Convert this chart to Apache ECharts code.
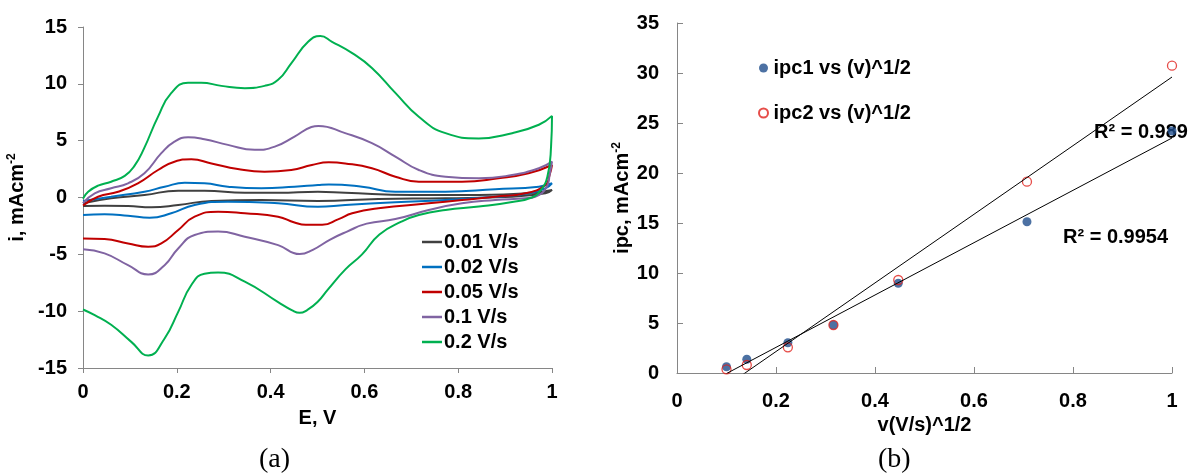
<!DOCTYPE html>
<html>
<head>
<meta charset="utf-8">
<script src="https://cdn.jsdelivr.net/npm/echarts@6/dist/echarts.min.js"></script>
<style>
html,body{margin:0;padding:0;background:#fff;}
#c{width:1193px;height:474px;}
</style>
</head>
<body>
<div id="c"></div>
<script>
// ---------- Panel (a): cyclic voltammograms, [E (V), i (mA/cm2)] ----------
const cvNames = ['0.01 V/s', '0.02 V/s', '0.05 V/s', '0.1 V/s', '0.2 V/s'];
const cv001 = [[0,-0.5],[0.06,-0.07],[0.131,0.22],[0.203,0.6],[0.259,0.6],[0.345,0.42],[0.416,0.42],[0.501,0.51],[0.559,0.42],[0.701,0.22],[0.844,0.22],[0.95,0.37],[1.0,0.66],
  [0.986,0.37],[0.915,0.07],[0.773,-0.07],[0.63,-0.13],[0.501,-0.3],[0.38,-0.22],[0.274,-0.3],[0.203,-0.66],[0.146,-0.86],[0.096,-0.75],[0.046,-0.72],[0,-0.75]];
const cv002 = [[0,-0.3],[0.06,0.07],[0.131,0.51],[0.174,0.95],[0.217,1.3],[0.259,1.25],[0.309,0.95],[0.38,0.81],[0.451,0.95],[0.501,1.1],[0.524,1.15],[0.595,0.95],[0.666,0.51],[0.773,0.51],[0.879,0.72],[0.972,0.95],[1.0,1.25],
  [0.986,0.81],[0.95,0.37],[0.879,0.07],[0.773,-0.22],[0.666,-0.42],[0.559,-0.66],[0.501,-0.81],[0.416,-0.51],[0.309,-0.37],[0.238,-0.66],[0.188,-1.39],[0.142,-1.78],[0.096,-1.6],[0.046,-1.48],[0,-1.54]];
const cv005 = [[0,-0.7],[0.032,0.07],[0.075,0.51],[0.117,1.25],[0.16,2.42],[0.195,3.15],[0.231,3.36],[0.274,3.0],[0.33,2.5],[0.387,2.27],[0.444,2.42],[0.488,2.86],[0.524,3.1],[0.559,3.0],[0.616,2.57],[0.666,1.83],[0.716,1.39],[0.808,1.39],[0.886,1.69],[0.95,2.13],[1.0,2.86],
  [0.995,2.0],[0.986,1.1],[0.943,0.37],[0.879,0.07],[0.808,-0.22],[0.737,-0.51],[0.63,-0.95],[0.574,-1.39],[0.545,-1.9],[0.51,-2.4],[0.475,-2.4],[0.451,-2.2],[0.416,-1.69],[0.345,-1.39],[0.288,-1.25],[0.238,-1.69],[0.203,-2.86],[0.167,-4.04],[0.139,-4.33],[0.096,-4.04],[0.046,-3.66],[0,-3.6]];
const cv01 = [[0,-0.5],[0.025,0.37],[0.06,0.81],[0.096,1.25],[0.131,2.13],[0.167,3.9],[0.195,4.92],[0.224,5.3],[0.259,5.13],[0.309,4.63],[0.366,4.19],[0.409,4.48],[0.451,5.36],[0.487,6.2],[0.502,6.3],[0.559,5.66],[0.616,4.78],[0.666,3.6],[0.716,2.42],[0.773,1.83],[0.844,1.69],[0.915,1.98],[0.972,2.57],[1.0,3.15],
  [0.995,2.0],[0.989,0.95],[0.964,0.07],[0.943,-0.07],[0.879,-0.22],[0.808,-0.5],[0.737,-1.1],[0.666,-1.9],[0.605,-2.3],[0.563,-3.0],[0.527,-3.7],[0.49,-4.6],[0.462,-4.98],[0.416,-4.19],[0.345,-3.45],[0.288,-3.0],[0.238,-3.3],[0.203,-4.48],[0.174,-5.95],[0.139,-6.77],[0.096,-5.95],[0.046,-4.92],[0,-4.56]];
const cv02 = [[0,-0.1],[0.011,0.5],[0.032,1.04],[0.06,1.39],[0.089,1.9],[0.11,2.8],[0.13,4.3],[0.16,7.12],[0.188,9.18],[0.224,10.1],[0.252,10.1],[0.295,9.82],[0.345,9.62],[0.387,9.82],[0.416,10.35],[0.444,11.8],[0.48,13.7],[0.506,14.2],[0.531,13.7],[0.574,12.7],[0.616,11.4],[0.666,9.2],[0.716,7.1],[0.773,5.66],[0.844,5.2],[0.915,5.66],[0.972,6.4],[1.0,7.18],
  [0.998,4.5],[0.99,1.8],[0.975,0.6],[0.957,0.0],[0.915,-0.4],[0.844,-0.8],[0.773,-1.1],[0.716,-1.54],[0.68,-2.1],[0.632,-3.25],[0.595,-5.0],[0.56,-6.3],[0.522,-8.1],[0.5,-9.2],[0.478,-9.9],[0.462,-10.15],[0.445,-9.9],[0.416,-9.2],[0.345,-7.4],[0.288,-6.6],[0.259,-6.7],[0.231,-7.7],[0.203,-10.06],[0.174,-12.4],[0.139,-13.9],[0.103,-12.7],[0.06,-11.2],[0.025,-10.35],[0,-9.85]];
const cvColors = ['#404040', '#0070c0', '#c00000', '#8064a2', '#00b050'];
const eTicksA = [0, 0.2, 0.4, 0.6, 0.8, 1];
const iTicksA = [-15, -10, -5, 0, 5, 10, 15];

// ---------- Panel (b): peak current vs sqrt(scan rate) ----------
const sqrtV = [0.1, 0.141, 0.224, 0.316, 0.447, 0.707, 1.0];
const ipc1 = [0.63, 1.37, 3.03, 4.8, 8.97, 15.13, 24.2];
const ipc2 = [0.37, 0.8, 2.57, 4.8, 9.3, 19.13, 30.73];
const scatterNames = ['ipc1 vs (v)^1/2', 'ipc2 vs (v)^1/2'];
const r2Labels = ['R\u00b2 = 0.9954', 'R\u00b2 = 0.989'];
const ipcTicks = [0, 5, 10, 15, 20, 25, 30, 35];

function fitLine(xs, ys) {
  const n = xs.length;
  const mx = xs.reduce((a, b) => a + b, 0) / n;
  const my = ys.reduce((a, b) => a + b, 0) / n;
  let sxy = 0, sxx = 0;
  for (let k = 0; k < n; k++) { sxy += (xs[k] - mx) * (ys[k] - my); sxx += (xs[k] - mx) * (xs[k] - mx); }
  const b = sxy / sxx, a = my - b * mx;
  const x0 = Math.min(...xs), x1 = Math.max(...xs);
  return [[x0, a + b * x0], [x1, a + b * x1]];
}

const FONT = '"Liberation Sans", Arial, sans-serif';
const axisGray = '#868686';
const lblStyle = { color: '#000', fontFamily: FONT, fontWeight: 'bold', fontSize: 20 };

const chart = echarts.init(document.getElementById('c'));
const cvSeries = [cv001, cv002, cv005, cv01, cv02].map((d, k) => ({
  name: cvNames[k], type: 'line', xAxisIndex: 0, yAxisIndex: 0,
  data: d, smooth: 0.5, showSymbol: false, symbol: 'none',
  lineStyle: { color: cvColors[k], width: 2 }, itemStyle: { color: cvColors[k] },
  animation: false
}));

chart.setOption({
  animation: false,
  textStyle: { fontFamily: FONT },
  grid: [
    { left: 83, top: 27, width: 469, height: 341, containLabel: false },
    { left: 677, top: 23, width: 495, height: 350, containLabel: false }
  ],
  xAxis: [
    { gridIndex: 0, type: 'value', min: eTicksA[0], max: eTicksA[eTicksA.length - 1], interval: 0.2,
      axisLine: { onZero: false, lineStyle: { color: axisGray } },
      axisTick: { inside: false, length: 5, lineStyle: { color: axisGray } },
      splitLine: { show: false },
      axisLabel: Object.assign({ margin: 14 }, lblStyle),
      name: 'E, V', nameLocation: 'middle', nameGap: 40,
      nameTextStyle: { color: '#000', fontFamily: FONT, fontWeight: 'bold', fontSize: 20 } },
    { gridIndex: 1, type: 'value', min: 0, max: 1, interval: 0.2,
      axisLine: { onZero: false, lineStyle: { color: axisGray } },
      axisTick: { inside: true, length: 6, lineStyle: { color: axisGray } },
      splitLine: { show: false },
      axisLabel: Object.assign({ margin: 18 }, lblStyle),
      name: 'v(V/s)^1/2', nameLocation: 'middle', nameGap: 42,
      nameTextStyle: { color: '#000', fontFamily: FONT, fontWeight: 'bold', fontSize: 20 } }
  ],
  yAxis: [
    { gridIndex: 0, type: 'value', min: iTicksA[0], max: iTicksA[iTicksA.length - 1], interval: 5,
      axisLine: { show: true, onZero: false, lineStyle: { color: axisGray } },
      axisTick: { show: true, inside: false, length: 5, lineStyle: { color: axisGray } },
      splitLine: { show: false },
      axisLabel: Object.assign({ margin: 16 }, lblStyle),
      name: '{m|i, mAcm}{s|-2}', nameLocation: 'middle', nameRotate: 90, nameGap: 55, nameMoveOverlap: false,
      nameTextStyle: { rich: {
        m: { color: '#000', fontFamily: FONT, fontWeight: 'bold', fontSize: 20 },
        s: { color: '#000', fontFamily: FONT, fontWeight: 'bold', fontSize: 12, padding: [0, 0, 10, 0] } } } },
    { gridIndex: 1, type: 'value', min: ipcTicks[0], max: ipcTicks[ipcTicks.length - 1], interval: 5,
      axisLine: { show: true, onZero: false, lineStyle: { color: axisGray } },
      axisTick: { show: true, inside: true, length: 6, lineStyle: { color: axisGray } },
      splitLine: { show: false },
      axisLabel: Object.assign({ margin: 18 }, lblStyle),
      name: '{m|ipc, mAcm}{s|-2}', nameLocation: 'middle', nameRotate: 90, nameGap: 44, nameMoveOverlap: false,
      nameTextStyle: { rich: {
        m: { color: '#000', fontFamily: FONT, fontWeight: 'bold', fontSize: 20 },
        s: { color: '#000', fontFamily: FONT, fontWeight: 'bold', fontSize: 12, padding: [0, 0, 10, 0] } } } }
  ],
  legend: [
    { data: cvNames, orient: 'vertical', left: 417, top: 227, itemGap: 5,
      icon: 'rect', itemWidth: 20, itemHeight: 2.5,
      textStyle: { color: '#000', fontFamily: FONT, fontWeight: 'bold', fontSize: 20, padding: [0, 0, 0, -3] },
      selectedMode: false },
    { data: scatterNames, orient: 'vertical', left: 753, top: 53, itemGap: 25,
      itemWidth: 10, itemHeight: 9,
      textStyle: { color: '#000', fontFamily: FONT, fontWeight: 'bold', fontSize: 20 },
      selectedMode: false }
  ],
  series: cvSeries.concat([
    { name: 'fit1', type: 'line', xAxisIndex: 1, yAxisIndex: 1, data: fitLine(sqrtV, ipc1),
      showSymbol: false, symbol: 'none', lineStyle: { color: '#000', width: 1 }, silent: true },
    { name: 'fit2', type: 'line', xAxisIndex: 1, yAxisIndex: 1, data: fitLine(sqrtV, ipc2),
      showSymbol: false, symbol: 'none', lineStyle: { color: '#000', width: 1 }, silent: true },
    { name: scatterNames[0], type: 'scatter', xAxisIndex: 1, yAxisIndex: 1,
      data: sqrtV.map((x, k) => [x, ipc1[k]]), symbol: 'circle', symbolSize: 9,
      itemStyle: { color: '#1f4e8c' } },
    { name: scatterNames[1], type: 'scatter', xAxisIndex: 1, yAxisIndex: 1,
      data: sqrtV.map((x, k) => [x, ipc2[k]]), symbol: 'circle', symbolSize: 9,
      itemStyle: { color: 'rgba(255,255,255,0)', borderColor: '#e0201b', borderWidth: 1.3 } }
  ]),
  graphic: [
    { type: 'text', left: 1063, top: 227, style: { text: r2Labels[0], fill: '#000', font: 'bold 20px ' + FONT } },
    { type: 'text', left: 1094, top: 122, style: { text: r2Labels[1], fill: '#000', font: 'bold 20px ' + FONT } },
    { type: 'text', left: 259, top: 446, style: { text: '(a)', fill: '#000', font: '28px "Liberation Serif", "Times New Roman", serif' } },
    { type: 'text', left: 878, top: 446, style: { text: '(b)', fill: '#000', font: '28px "Liberation Serif", "Times New Roman", serif' } }
  ]
});
</script>
</body>
</html>
